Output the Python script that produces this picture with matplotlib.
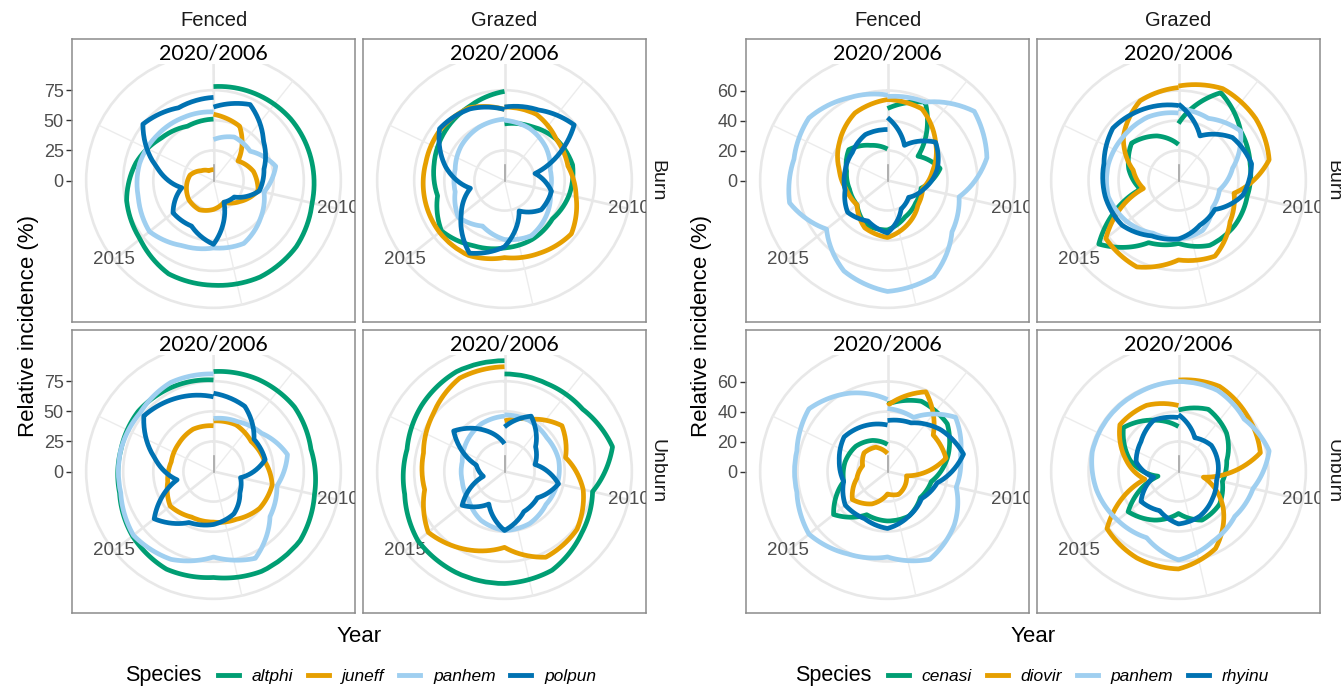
import numpy as np
import matplotlib
matplotlib.use("Agg")
import matplotlib.pyplot as plt
from matplotlib.lines import Line2D

plt.rcParams['font.family'] = ['Liberation Sans', 'DejaVu Sans']

years = list(range(2006, 2021))
theta_major = [2010, 2015, 2020]
theta_minor = [2007.5, 2012.5, 2017.5]

species_left = ["altphi", "juneff", "panhem", "polpun"]
species_right = ["cenasi", "diovir", "panhem", "rhyinu"]
colors = ["#009E73", "#E69F00", "#9FCFF0", "#0072B2"]

rbreaks_left = [0, 25, 50, 75]
rbreaks_right = [0, 20, 40, 60]

# relative incidence (%) per year 2006..2020
left_fenced_burn = {
    "altphi": [78, 80, 82, 83, 84, 88, 89, 87, 86, 78, 74, 66, 56, 50, 51],
    "juneff": [55, 50, 26, 34, 38, 28, 20, 24, 27, 26, 23, 20, 13, 9, 9],
    "panhem": [34, 40, 39, 53, 43, 50, 58, 56, 60, 68, 64, 63, 60, 58, 57],
    "polpun": [61, 70, 53, 43, 39, 22, 20, 53, 42, 43, 27, 48, 75, 67, 69],
}
left_grazed_burn = {
    "altphi": [47, 50, 55, 58, 55, 51, 54, 56, 60, 67, 57, 60, 64, 68, 74],
    "juneff": [61, 61, 55, 54, 61, 71, 67, 64, 69, 69, 68, 67, 68, 67, 59],
    "panhem": [50, 48, 44, 39, 39, 45, 51, 49, 42, 49, 42, 42, 46, 49, 51],
    "polpun": [61, 65, 74, 26, 40, 39, 28, 55, 67, 46, 29, 50, 69, 66, 59],
}
left_fenced_unburn = {
    "altphi": [83, 85, 86, 83, 86, 92, 92, 88, 90, 86, 80, 79, 80, 78, 76],
    "juneff": [42, 43, 40, 43, 50, 49, 44, 42, 42, 46, 39, 36, 37, 39, 38],
    "panhem": [44, 46, 51, 63, 54, 60, 80, 71, 81, 85, 79, 79, 78, 82, 81],
    "polpun": [65, 60, 43, 44, 23, 28, 39, 44, 47, 63, 31, 50, 74, 68, 62],
}
left_grazed_unburn = {
    "altphi": [81, 81, 83, 92, 75, 82, 91, 93, 93, 92, 85, 83, 88, 92, 92],
    "juneff": [42, 48, 61, 52, 67, 77, 79, 63, 72, 81, 68, 69, 76, 86, 87],
    "panhem": [47, 47, 45, 46, 45, 44, 48, 49, 45, 38, 36, 36, 40, 44, 46],
    "polpun": [37, 51, 33, 26, 46, 35, 37, 49, 30, 45, 18, 24, 54, 38, 23],
}
right_fenced_burn = {
    "cenasi": [48, 58, 26, 36, 23, 24, 27, 33, 33, 26, 26, 28, 33, 26, 21],
    "diovir": [54, 53, 41, 31, 24, 26, 32, 38, 35, 26, 28, 33, 41, 50, 54],
    "panhem": [56, 58, 74, 68, 49, 55, 71, 74, 67, 52, 67, 64, 67, 61, 57],
    "rhyinu": [42, 26, 41, 34, 25, 18, 21, 35, 30, 34, 29, 29, 30, 34, 34],
}
right_grazed_burn = {
    "cenasi": [38, 65, 53, 49, 47, 48, 48, 42, 46, 68, 26, 34, 40, 33, 24],
    "diovir": [63, 68, 66, 62, 38, 44, 56, 53, 64, 62, 24, 31, 47, 59, 62],
    "panhem": [48, 46, 53, 37, 28, 29, 37, 39, 39, 44, 48, 48, 47, 47, 45],
    "rhyinu": [51, 33, 46, 50, 44, 31, 33, 39, 41, 48, 50, 51, 56, 53, 50],
}
right_fenced_unburn = {
    "cenasi": [45, 52, 51, 41, 30, 28, 33, 33, 32, 46, 30, 29, 27, 23, 18],
    "diovir": [44, 59, 39, 40, 13, 15, 17, 15, 24, 30, 21, 17, 20, 18, 12],
    "panhem": [42, 40, 58, 50, 47, 57, 65, 57, 61, 67, 62, 62, 67, 58, 48],
    "rhyinu": [34, 36, 45, 52, 34, 29, 33, 38, 35, 36, 30, 33, 37, 34, 31],
}
right_grazed_unburn = {
    "cenasi": [41, 46, 41, 33, 30, 35, 36, 28, 36, 43, 14, 33, 47, 38, 30],
    "diovir": [61, 63, 59, 56, 17, 38, 57, 65, 64, 61, 23, 36, 50, 49, 44],
    "panhem": [60, 60, 56, 62, 51, 48, 52, 59, 49, 52, 56, 59, 59, 59, 60],
    "rhyinu": [38, 25, 28, 27, 26, 29, 33, 35, 29, 32, 17, 29, 32, 38, 36],
}

W, H = 1341, 687
PS = 283
fig = plt.figure(figsize=(W / 100, H / 100), dpi=100)


def rect(x0, y0, w, h):
    return [x0 / W, 1 - (y0 + h) / H, w / W, h / H]


def to_theta(yr):
    return 2 * np.pi * (np.asarray(yr, dtype=float) - 2006) / 14


def draw_facet(x0, y0, data, species, r04, rbreaks, first_col):
    rmax = r04 * 0.5 / 0.4
    r45 = r04 * 0.45 / 0.4

    # rectangular panel: border + radial axis ticks
    frame = fig.add_axes(rect(x0, y0, PS, PS))
    frame.set_xlim(-rmax, rmax)
    frame.set_ylim(-rmax, rmax)
    frame.set_xticks([])
    if first_col:
        frame.set_yticks(rbreaks)
        frame.tick_params(axis='y', length=4, width=1, color='#333333',
                          labelsize=13, labelcolor='#4d4d4d', pad=2)
    else:
        frame.set_yticks([])
    for s in frame.spines.values():
        s.set_color('#8c8c8c')
        s.set_linewidth(1.1)

    ax = fig.add_axes(rect(x0, y0, PS, PS), projection='polar')
    ax.set_facecolor('none')
    ax.set_theta_zero_location('N')
    ax.set_theta_direction(-1)
    ax.set_ylim(0, rmax)
    ax.spines['polar'].set_visible(False)
    ax.set_xticks([])
    ax.set_yticks(rbreaks[1:] + [r45])
    ax.set_yticklabels([])
    ax.tick_params(axis='y', length=0)
    ax.yaxis.grid(True, color='#e8e8e8', linewidth=1.9)
    ax.set_axisbelow(True)

    for yr in theta_major:
        ax.plot([to_theta(yr)] * 2, [0, r45], color='#e8e8e8', lw=1.9, zorder=0.6)
    for yr in theta_minor:
        ax.plot([to_theta(yr)] * 2, [0, r45], color='#ececec', lw=1.0, zorder=0.6)
    ax.plot([0, 0], [0, 0.133 * r04], color='#a6a6a6', lw=1.2, zorder=0.7)

    for yr in [2010, 2015]:
        t = ax.text(to_theta(yr), r45, str(yr), ha='center', va='center',
                    fontsize=13.5, color='#4d4d4d', clip_on=True)
        t.set_clip_path(frame.patch)
    ax.text(0, r45, '2020/2006', ha='center', va='center', fontsize=15.5,
            family=['Lato', 'DejaVu Sans'], color='black', zorder=5,
            bbox=dict(facecolor='white', edgecolor='none', pad=1))

    for sp, c in zip(species, colors):
        ln, = ax.plot(to_theta(years), data[sp], color=c, lw=3.4,
                      solid_joinstyle='round', solid_capstyle='butt', zorder=3)
        # connect yearly points along spirals, like coord_polar does
        ln.get_path()._interpolation_steps = 30


cols_left = [72, 363]
cols_right = [746, 1037]
rows = [39, 330]

draw_facet(cols_left[0], rows[0], left_fenced_burn, species_left, 94, rbreaks_left, True)
draw_facet(cols_left[1], rows[0], left_grazed_burn, species_left, 94, rbreaks_left, False)
draw_facet(cols_left[0], rows[1], left_fenced_unburn, species_left, 94, rbreaks_left, True)
draw_facet(cols_left[1], rows[1], left_grazed_unburn, species_left, 94, rbreaks_left, False)

draw_facet(cols_right[0], rows[0], right_fenced_burn, species_right, 75.5, rbreaks_right, True)
draw_facet(cols_right[1], rows[0], right_grazed_burn, species_right, 75.5, rbreaks_right, False)
draw_facet(cols_right[0], rows[1], right_fenced_unburn, species_right, 75.5, rbreaks_right, True)
draw_facet(cols_right[1], rows[1], right_grazed_unburn, species_right, 75.5, rbreaks_right, False)

# strips, axis titles, legends
for cols, strip_x, title_x, sp_list, species_x, key_x in [
        (cols_left, 657, 29, species_left, 125, 218),
        (cols_right, 1333, 701, species_right, 795, 888)]:
    for cx, lab in zip(cols, ["Fenced", "Grazed"]):
        fig.text((cx + PS / 2) / W, 1 - 20 / H, lab, ha='center', va='center',
                 fontsize=14.5, color='#1a1a1a')
    for ry, lab in zip(rows, ["Burn", "Unburn"]):
        fig.text(strip_x / W, 1 - (ry + PS / 2) / H, lab, ha='center', va='center',
                 rotation=-90, fontsize=14, color='#1a1a1a')
    fig.text(title_x / W, 1 - 326 / H, 'Relative incidence (%)', rotation=90,
             ha='center', va='center', fontsize=16)
    fig.text((cols[0] + cols[1] + PS) / 2 / W, 1 - 636 / H, 'Year',
             ha='center', va='center', fontsize=16)
    fig.text(species_x / W, 1 - 676 / H, 'Species', ha='left', va='center',
             fontsize=15.5)
    handles = [Line2D([], [], color=c, lw=3.5) for c in colors]
    fig.legend(handles, sp_list, loc='center left',
               bbox_to_anchor=(key_x / W, 1 - 676 / H), ncol=4, frameon=False,
               handlelength=1.2, handletextpad=0.75, columnspacing=0.85,
               borderaxespad=0, borderpad=0,
               prop={'style': 'italic', 'size': 12.5})

fig.savefig('out.png', dpi=100)
